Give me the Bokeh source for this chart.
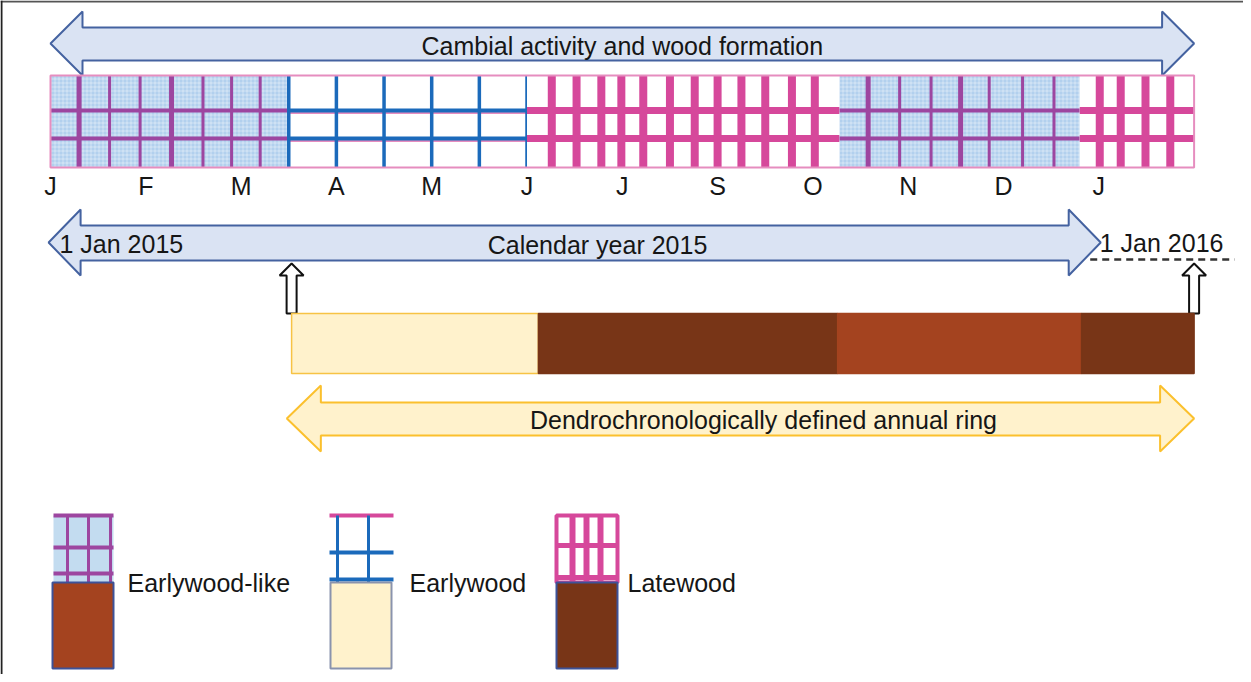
from bokeh.plotting import figure
from bokeh.models import Range1d
from bokeh.embed import file_html
from bokeh.resources import INLINE
from bokeh.core.properties import value

# ---------------- data (months since 1 Jan 2015) ----------------
month_labels = ["J", "F", "M", "A", "M", "J", "J", "S", "O", "N", "D", "J"]
month_pos = list(range(12))

band_types = ["Earlywood-like", "Earlywood", "Latewood", "Earlywood-like", "Latewood"]
band_start = [0.0, 2.5, 5.0, 8.28, 10.8]
band_end = [2.5, 5.0, 8.28, 10.8, 12.0]
cell_walls = [
    [0.30, 0.62, 0.94, 1.27, 1.60, 1.90, 2.20],
    [2.5, 3.0, 3.5, 4.0, 4.5, 5.0],
    [5.26, 5.52, 5.78, 5.99, 6.22, 6.50, 6.76, 7.00, 7.25, 7.50, 7.78, 8.02],
    [8.58, 8.91, 9.24, 9.55, 9.85, 10.20, 10.53],
    [11.01, 11.23, 11.49, 11.75],
]

ring_types = ["Earlywood", "Latewood", "Earlywood-like", "Latewood"]
ring_start = [2.53, 5.12, 8.26, 10.82]
ring_end = [5.12, 8.26, 10.82, 12.0]

cambial_period = [0.0, 12.0]
calendar_period = [0.0, 11.0]
ring_period = [2.5, 12.0]

legend_types = ["Earlywood-like", "Earlywood", "Latewood"]

# ---------------- layout / styles ----------------
PX0, PPM = 58.0, 95.3          # pixel of month 0, pixels per month


def mx(px):
    return (px - PX0) / PPM


FONT = value("Liberation Sans")
FS = "25px"
TXT = "#161616"
PINK = "#d6489b"
PURPLE = "#9d46a0"
BLUE = "#1b6abb"
CHECK = "#b2d0ee"
fill_of = {"Earlywood-like": "#a4431f", "Earlywood": "#fff2cc", "Latewood": "#783517"}
ring_line = {"Earlywood-like": "#a4431f", "Earlywood": "#f7c344", "Latewood": "#783517"}

p = figure(width=1243, height=674, output_backend="svg", toolbar_location=None,
           x_range=Range1d(mx(8), mx(1251)), y_range=Range1d(682, 8),
           x_axis_type=None, y_axis_type=None, min_border=0)
p.outline_line_color = None
p.grid.visible = False
p.background_fill_color = "white"
p.border_fill_color = "white"

# frame lines (top & left)
p.segment(x0=[mx(8)], y0=[9], x1=[mx(1251)], y1=[9], line_color="#555555", line_width=2)
p.segment(x0=[mx(9)], y0=[8], x1=[mx(9)], y1=[682], line_color="#222222", line_width=2)


def label(x, y, text, align="center"):
    p.text(x=x, y=y, text=text, text_font=FONT, text_font_size=FS, text_align=align,
           text_baseline="middle", text_color=TXT)


def block_arrow(x0, x1, yc, head_len, head_half, shaft_top, shaft_bot):
    xs = [x0, x0 + head_len, x0 + head_len, x1 - head_len, x1 - head_len, x1,
          x1 - head_len, x1 - head_len, x0 + head_len, x0 + head_len]
    ys = [yc, yc - head_half, shaft_top, shaft_top, yc - head_half, yc,
          yc + head_half, shaft_bot, shaft_bot, yc + head_half]
    return xs, ys


# ---------------- top arrow ----------------
xs, ys = block_arrow(cambial_period[0], cambial_period[1], 51, mx(90) - mx(58), 32, 35, 68)
p.patch(xs, ys, fill_color="#dae3f3", line_color="#4462a0", line_width=2)
label([sum(cambial_period) / 2], [53], ["Cambial activity and wood formation"])

# ---------------- cell strip ----------------
Y_TOP, Y_BOT = 83, 175
ROWS = [118, 146]
for t, s, e, walls in zip(band_types, band_start, band_end, cell_walls):
    if t == "Earlywood-like":
        p.quad(left=[s], right=[e], top=[Y_TOP], bottom=[Y_BOT], fill_color=CHECK,
               line_color=None, hatch_pattern="+", hatch_color="white",
               hatch_scale=4, hatch_weight=1, hatch_alpha=0.4)
        p.segment(x0=[s] * 2, x1=[e] * 2, y0=ROWS, y1=ROWS, line_color=PURPLE, line_width=4)
        widths = [5 if k in (0, 3) else 3 for k in range(len(walls))]
        p.segment(x0=walls, x1=walls, y0=[Y_TOP] * len(walls), y1=[Y_BOT] * len(walls),
                  line_color=PURPLE, line_width=widths)
    elif t == "Earlywood":
        p.quad(left=[s], right=[e], top=[Y_TOP], bottom=[Y_BOT], fill_color="white",
               line_color=None)
        rows2 = [r + 2.5 for r in ROWS]
        p.segment(x0=[s] * 2, x1=[e] * 2, y0=rows2, y1=rows2, line_color="#e68dbf", line_width=2)
        p.segment(x0=[s] * 2, x1=[e] * 2, y0=ROWS, y1=ROWS, line_color=BLUE, line_width=4)
        p.segment(x0=walls, x1=walls, y0=[Y_TOP] * len(walls), y1=[Y_BOT] * len(walls),
                  line_color=BLUE, line_width=3.5)
    else:
        p.quad(left=[s], right=[e], top=[Y_TOP], bottom=[Y_BOT], fill_color="white",
               line_color=None)
        p.segment(x0=[s] * 2, x1=[e] * 2, y0=ROWS, y1=ROWS, line_color=PINK, line_width=7)
        p.segment(x0=walls, x1=walls, y0=[Y_TOP] * len(walls), y1=[Y_BOT] * len(walls),
                  line_color=PINK, line_width=8)

p.quad(left=[band_start[0]], right=[band_end[-1]], top=[Y_TOP], bottom=[Y_BOT],
       fill_color=None, line_color="#e68dbf", line_width=2)

label(month_pos, [193] * len(month_pos), month_labels)

# ---------------- calendar arrow ----------------
xs, ys = block_arrow(calendar_period[0] - 0.02, calendar_period[1] + 0.02, 250,
                     mx(90) - mx(58), 33, 233, 268)
p.patch(xs, ys, fill_color="#dae3f3", line_color="#4462a0", line_width=2)
p.segment(x0=[calendar_period[1] - 0.09], x1=[mx(1242)], y0=[267], y1=[267],
          line_color="#333333", line_width=2.5, line_dash="7 5")
label([mx(605)], [252], ["Calendar year 2015"])
label([mx(67)], [251], ["1 Jan 2015"], "left")
label([calendar_period[1] + 0.01], [250], ["1 Jan 2016"], "left")

# ---------------- ring boundary markers (hollow up arrows) ----------------
hh, sh = 12 / PPM, 5 / PPM
for xc in [ring_start[0], ring_end[-1]]:
    ax = [xc, xc + hh, xc + sh, xc + sh, xc - sh, xc - sh, xc - hh]
    ay = [271, 283, 283, 321, 321, 283, 283]
    p.patch(ax, ay, fill_color="white", line_color="#111111", line_width=2)

# ---------------- ring bar ----------------
p.quad(left=ring_start, right=ring_end, top=[321] * 4, bottom=[381] * 4,
       fill_color=[fill_of[t] for t in ring_types],
       line_color=[ring_line[t] for t in ring_types], line_width=1.5)

# ---------------- dendro arrow ----------------
xs, ys = block_arrow(ring_period[0] - 0.02, ring_period[1], 426, mx(92) - mx(58), 33, 410, 443)
p.patch(xs, ys, fill_color="#fff2cc", line_color="#fbc02d", line_width=2)
label([mx(771)], [427], ["Dendrochronologically defined annual ring"])

# ---------------- legend ----------------
leg_left = [60, 338, 564]
leg_w = 61
label_x = [135, 417, 635]
for t, lx, tx in zip(legend_types, leg_left, label_x):
    L, R = mx(lx), mx(lx + leg_w)
    if t == "Earlywood-like":
        p.quad(left=[mx(lx + 1)], right=[R], top=[523], bottom=[590], fill_color="#c3dcf0",
               line_color=None)
        p.segment(x0=[mx(lx + 1)] * 3, x1=[R] * 3, y0=[523, 555, 581], y1=[523, 555, 581],
                  line_color=PURPLE, line_width=4)
        vx = [mx(lx + 15), mx(lx + 36), mx(lx + 58)]
        p.segment(x0=vx, x1=vx, y0=[523] * 3, y1=[590] * 3, line_color=PURPLE, line_width=3)
    elif t == "Earlywood":
        p.segment(x0=[mx(lx - 1)], x1=[mx(lx + 63)], y0=[523], y1=[523],
                  line_color=PINK, line_width=4)
        vx = [mx(lx + 7), mx(lx + 38)]
        p.segment(x0=vx, x1=vx, y0=[523] * 2, y1=[590] * 2, line_color=BLUE, line_width=3)
        p.segment(x0=[mx(lx - 1)] * 2, x1=[mx(lx + 63)] * 2, y0=[560, 587], y1=[560, 587],
                  line_color=BLUE, line_width=4)
    else:
        vx = [mx(lx + 16), mx(lx + 30), mx(lx + 44)]
        p.segment(x0=vx, x1=vx, y0=[523] * 3, y1=[590] * 3, line_color=PINK, line_width=6)
        p.segment(x0=[L] * 2, x1=[R] * 2, y0=[553, 585], y1=[553, 585],
                  line_color=PINK, line_width=5)
        p.quad(left=[L], right=[R], top=[523], bottom=[590], fill_color=None,
               line_color=PINK, line_width=4)
    p.quad(left=[L], right=[R], top=[590], bottom=[676], fill_color=fill_of[t],
           line_color="#8a93ad" if t == "Earlywood" else "#3d5298", line_width=2)
    label([mx(tx)], [590], [t], "left")

open("out.html", "w").write(file_html(p, INLINE))
